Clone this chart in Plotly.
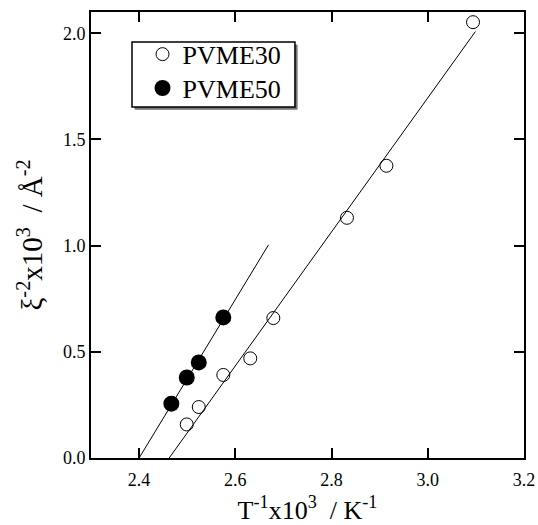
import plotly.graph_objects as go

# Data
pvme30_x = [2.499, 2.524, 2.575, 2.631, 2.679, 2.832, 2.914, 3.094]
pvme30_y = [0.158, 0.240, 0.391, 0.469, 0.659, 1.131, 1.376, 2.052]
pvme50_x = [2.467, 2.499, 2.524, 2.575]
pvme50_y = [0.256, 0.379, 0.450, 0.662]

# Fit lines (end points)
fit30_x = [2.4625, 3.099]
fit30_y = [0.0, 2.008]
fit50_x = [2.400, 2.669]
fit50_y = [0.0, 1.004]

x_ticks = [2.4, 2.6, 2.8, 3.0, 3.2]
y_ticks = [0.0, 0.5, 1.0, 1.5, 2.0]

FONT = "Liberation Serif, Times New Roman, serif"

fig = go.Figure()
fig.add_trace(go.Scatter(x=fit30_x, y=fit30_y, mode="lines",
                         line=dict(color="black", width=1), showlegend=False,
                         hoverinfo="skip"))
fig.add_trace(go.Scatter(x=fit50_x, y=fit50_y, mode="lines",
                         line=dict(color="black", width=1), showlegend=False,
                         hoverinfo="skip"))
fig.add_trace(go.Scatter(x=pvme30_x, y=pvme30_y, mode="markers", name="PVME30",
                         legend="legend",
                         marker=dict(symbol="circle-open", size=13, color="black",
                                     line=dict(width=1, color="black"))))
fig.add_trace(go.Scatter(x=pvme50_x, y=pvme50_y, mode="markers", name="PVME50",
                         legend="legend2",
                         marker=dict(symbol="circle", size=16, color="black")))

axis_common = dict(
    showgrid=False, zeroline=False, showline=True, linecolor="black", linewidth=2,
    mirror="ticks", ticks="inside", ticklen=10, tickwidth=1.5, tickcolor="black",
    tickfont=dict(family=FONT, size=18, color="black"), automargin=False,
)

# legend frame (drawn as shapes so it can be tight around the entries)
fig.add_shape(type="rect", xref="paper", yref="paper",
              x0=0.1017, x1=0.476, y0=0.782, y1=0.926,
              line=dict(color="#777", width=1), fillcolor="#777", layer="below")
fig.add_shape(type="rect", xref="paper", yref="paper",
              x0=0.0947, x1=0.471, y0=0.787, y1=0.9327,
              line=dict(color="black", width=1.5), fillcolor="white", layer="below")

legend_common = dict(xanchor="left", yanchor="top", bgcolor="rgba(0,0,0,0)",
                     borderwidth=0, font=dict(family=FONT, size=26, color="black"))

fig.update_layout(
    width=538, height=525,
    margin=dict(l=91, r=14, t=12, b=67),
    paper_bgcolor="white", plot_bgcolor="white",
    font=dict(family=FONT, color="black"),
    xaxis=dict(range=[2.3, 3.2], tickvals=x_ticks, ticktext=[f"{v:.1f}" for v in x_ticks],
               ticklabelstandoff=4,
               title=dict(text="T<sup>-1</sup>x10<sup>3</sup>  / K<sup>-1</sup>",
                          font=dict(family=FONT, size=26), standoff=17),
               **axis_common),
    yaxis=dict(range=[0, 2.1], tickvals=y_ticks, ticktext=[f"{v:.1f}" for v in y_ticks],
               title=dict(text="ξ<sup>-2</sup>x10<sup>3</sup>  / Å<sup>-2</sup>",
                          font=dict(family=FONT, size=29), standoff=12),
               **axis_common),
    legend=dict(x=0.119, y=0.958, **legend_common),
    legend2=dict(x=0.119, y=0.882, **legend_common),
    showlegend=True,
)

fig.write_html("out.html")
